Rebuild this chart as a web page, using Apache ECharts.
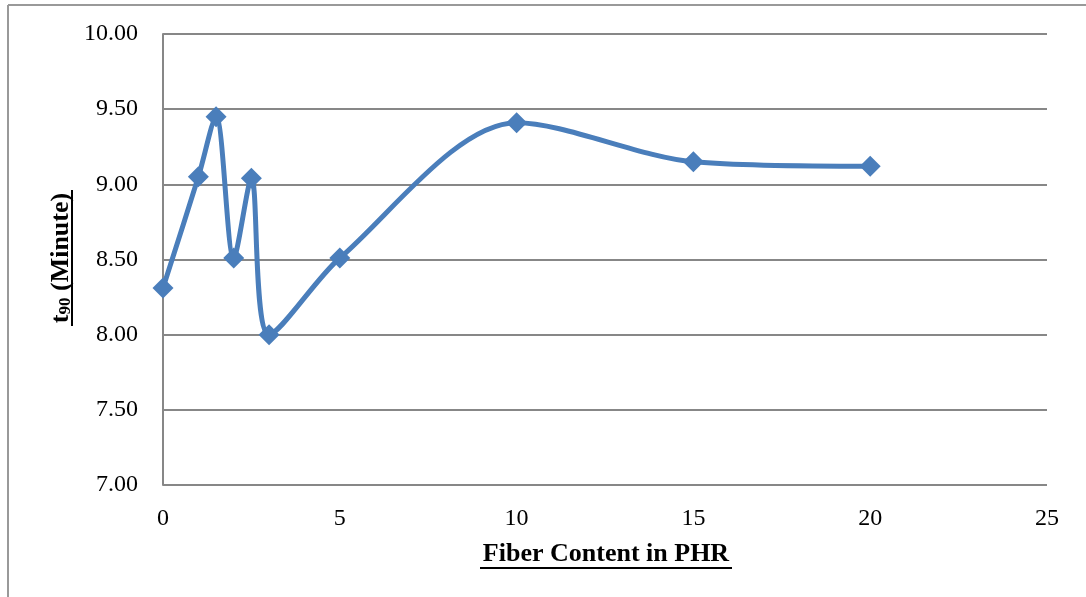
<!DOCTYPE html>
<html>
<head>
<meta charset="utf-8">
<script src="https://cdn.jsdelivr.net/npm/echarts@6/dist/echarts.min.js"></script>
<style>html,body{margin:0;padding:0;background:#fff}#c{width:1086px;height:597px}</style>
</head>
<body>
<div id="c"></div>
<script>
const fiberContent = [0, 1, 1.5, 2, 2.5, 3, 5, 10, 15, 20];
const t90Values = [8.31, 9.05, 9.45, 8.51, 9.04, 8.00, 8.51, 9.41, 9.15, 9.12];
const xTitle = 'Fiber Content in PHR';
const yTitleMain = 't';
const yTitleSub = '90';
const yTitleRest = ' (Minute)';

const chart = echarts.init(document.getElementById('c'));
const font = '"Liberation Serif", "Times New Roman", serif';
const grid = '#878787';
chart.setOption({
  animation: false,
  backgroundColor: '#fff',
  grid: {left: 163, right: 39, top: 34, bottom: 112},
  xAxis: {
    type: 'value', min: 0, max: 25, interval: 5,
    axisLine: {show: false},
    axisTick: {show: false},
    splitLine: {show: false},
    axisLabel: {color: '#000', fontFamily: font, fontSize: 24, margin: 22}
  },
  yAxis: {
    type: 'value', min: 7, max: 10, interval: 0.5,
    axisLine: {show: true, lineStyle: {color: grid, width: 2}},
    axisTick: {show: false},
    splitLine: {show: true, lineStyle: {color: grid, width: 2}},
    axisLabel: {color: '#000', fontFamily: font, fontSize: 24, margin: 25,
      formatter: v => v.toFixed(2)}
  },
  series: [{
    type: 'line',
    data: fiberContent.map((x, i) => [x, t90Values[i]]),
    smooth: 0.3,
    symbol: 'diamond',
    symbolSize: 21,
    showAllSymbol: true,
    lineStyle: {color: '#4a7ebb', width: 5},
    itemStyle: {color: '#4a7ebb'},
    z: 5
  }],
  graphic: [
    {type: 'line', shape: {x1: 8, y1: 5, x2: 1086, y2: 5}, style: {stroke: '#999', lineWidth: 2}},
    {type: 'line', shape: {x1: 8, y1: 5, x2: 8, y2: 597}, style: {stroke: '#999', lineWidth: 2}},
    {type: 'text', x: 606, y: 554, style: {text: xTitle, fill: '#000', font: 'bold 26px ' + font, align: 'center', verticalAlign: 'middle'}},
    {type: 'line', shape: {x1: 480, y1: 568, x2: 732, y2: 568}, style: {stroke: '#000', lineWidth: 2}},
    {type: 'group', x: 60, y: 258, rotation: Math.PI / 2, children: [
      {type: 'text', x: 0, y: 0, style: {
        text: '{b|' + yTitleMain + '}{s|' + yTitleSub + '}{b|' + yTitleRest + '}',
        align: 'center', verticalAlign: 'middle',
        rich: {
          b: {fontFamily: font, fontWeight: 'bold', fontSize: 26, fill: '#000', lineHeight: 28, verticalAlign: 'bottom'},
          s: {fontFamily: font, fontWeight: 'bold', fontSize: 17, fill: '#000', lineHeight: 17, verticalAlign: 'bottom', padding: [9, 0, 0, 0]}
        }
      }},
      {type: 'line', shape: {x1: -68, y1: 12, x2: 68, y2: 12}, style: {stroke: '#000', lineWidth: 2}}
    ]}
  ]
});
</script>
</body>
</html>
